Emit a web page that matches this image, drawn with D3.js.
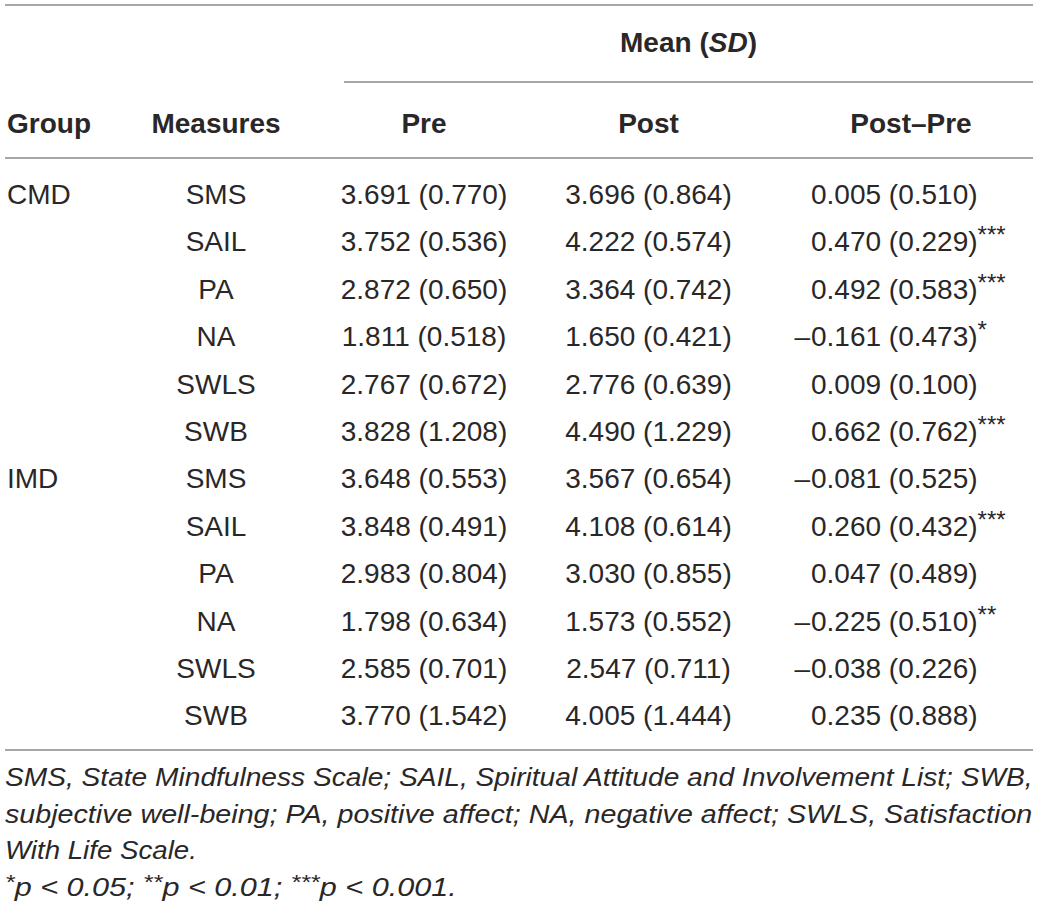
<!DOCTYPE html>
<html><head><meta charset="utf-8">
<script src="https://cdn.jsdelivr.net/npm/d3@7"></script>
<style>body{margin:0;background:#fff}svg{display:block}</style>
</head><body><svg id="c" width="1039" height="911"></svg>
<script>
const groups   = ["CMD","","","","","","IMD","","","","",""];
const measures = ["SMS","SAIL","PA","NA","SWLS","SWB","SMS","SAIL","PA","NA","SWLS","SWB"];
const preMean  = [3.691,3.752,2.872,1.811,2.767,3.828,3.648,3.848,2.983,1.798,2.585,3.770];
const preSD    = [0.770,0.536,0.650,0.518,0.672,1.208,0.553,0.491,0.804,0.634,0.701,1.542];
const postMean = [3.696,4.222,3.364,1.650,2.776,4.490,3.567,4.108,3.030,1.573,2.547,4.005];
const postSD   = [0.864,0.574,0.742,0.421,0.639,1.229,0.654,0.614,0.855,0.552,0.711,1.444];
const diffMean = [0.005,0.470,0.492,-0.161,0.009,0.662,-0.081,0.260,0.047,-0.225,-0.038,0.235];
const diffSD   = [0.510,0.229,0.583,0.473,0.100,0.762,0.525,0.432,0.489,0.510,0.226,0.888];
const sig      = ["","***","***","*","","***","","***","","**","",""];
const columns  = ["Group","Measures","Pre","Post","Post–Pre"];
const spanner  = ["Mean (", "SD", ")"];
const footLines = [
  "SMS, State Mindfulness Scale; SAIL, Spiritual Attitude and Involvement List; SWB,",
  "subjective well-being; PA, positive affect; NA, negative affect; SWLS, Satisfaction",
  "With Life Scale."
];
const footSig = [["*","p < 0.05; "],["**","p < 0.01; "],["***","p < 0.001."]];

const svg = d3.select("#c");
const FONT = "'Liberation Sans', Arial, Helvetica, sans-serif";
const INK = "#2a2728";
const RULE = "#8a8a8a";
const fmt = d3.format(".3f");
const cell = (m, s) => fmt(Math.abs(m)) + " (" + fmt(s) + ")";

const rowY = d3.scaleLinear().domain([0, 11]).range([204, 725.4]);
const colX = d3.scaleOrdinal().domain(columns).range([7, 216, 424, 648.5, 911]);
const diffStart = 811;

// rules
const rules = [
  {x1: 5, x2: 1033, y: 5},
  {x1: 344, x2: 1033, y: 82},
  {x1: 5, x2: 1033, y: 158},
  {x1: 5, x2: 1033, y: 750}
];
svg.selectAll("line.rule").data(rules).join("line")
  .attr("x1", d => d.x1).attr("x2", d => d.x2)
  .attr("y1", d => d.y).attr("y2", d => d.y)
  .attr("stroke", RULE).attr("stroke-width", 1.6);

const base = sel => sel.attr("font-family", FONT).attr("font-size", 28).attr("fill", INK);

// spanner header
const sp = svg.append("text").call(base).attr("font-weight", "bold")
  .attr("x", 688.5).attr("y", 52).attr("text-anchor", "middle");
sp.selectAll("tspan").data(spanner).join("tspan")
  .attr("font-style", (d, i) => i === 1 ? "italic" : "normal").text(d => d);

// column headers
svg.selectAll("text.hdr").data(columns).join("text").attr("class", "hdr").call(base)
  .attr("font-weight", "bold")
  .attr("x", d => colX(d)).attr("y", 133)
  .attr("text-anchor", (d, i) => i === 0 ? "start" : "middle")
  .text(d => d);

const idx = d3.range(measures.length);

svg.selectAll("text.grp").data(idx).join("text").attr("class", "grp").call(base)
  .attr("x", colX("Group")).attr("y", i => rowY(i)).text(i => groups[i]);

svg.selectAll("text.meas").data(idx).join("text").attr("class", "meas").call(base)
  .attr("x", colX("Measures")).attr("y", i => rowY(i)).attr("text-anchor", "middle")
  .text(i => measures[i]);

svg.selectAll("text.pre").data(idx).join("text").attr("class", "pre").call(base)
  .attr("x", colX("Pre")).attr("y", i => rowY(i)).attr("text-anchor", "middle")
  .text(i => cell(preMean[i], preSD[i]));

svg.selectAll("text.post").data(idx).join("text").attr("class", "post").call(base)
  .attr("x", colX("Post")).attr("y", i => rowY(i)).attr("text-anchor", "middle")
  .text(i => cell(postMean[i], postSD[i]));

// diff column: decimal aligned, minus hanging left
svg.selectAll("text.neg").data(idx.filter(i => diffMean[i] < 0)).join("text").attr("class", "neg").call(base)
  .attr("x", diffStart - 1).attr("y", i => rowY(i)).attr("text-anchor", "end").text("–");

const dt = svg.selectAll("text.diff").data(idx).join("text").attr("class", "diff").call(base)
  .attr("x", diffStart).attr("y", i => rowY(i));
dt.append("tspan").text(i => cell(diffMean[i], diffSD[i]));
dt.append("tspan").attr("font-size", 24).attr("dy", -8).text(i => sig[i]);

// footnotes
const footBase = [786, 822.5, 859, 895.5];
const footRight = [1033, 1033, 197, 457];
const fl = svg.selectAll("text.foot").data(footLines).join("text").attr("class", "foot").call(base)
  .attr("font-size", 26).attr("font-style", "italic").attr("x", 0).attr("y", 0).text(d => d);
const f4 = svg.append("text").attr("class", "foot4").call(base)
  .attr("font-size", 26).attr("font-style", "italic").attr("x", 0).attr("y", 0);
footSig.forEach(([s, t]) => {
  f4.append("tspan").attr("font-size", 21).attr("dy", -7).text(s);
  f4.append("tspan").attr("dy", 7).text(t);
});
svg.selectAll("text.foot, text.foot4").each(function(d, i) {
  const w = this.getBBox().width || 1;
  const k = (footRight[i] - 5) / w;
  d3.select(this).attr("transform", `translate(5,${footBase[i]}) scale(${k},1)`);
});
</script></body></html>
